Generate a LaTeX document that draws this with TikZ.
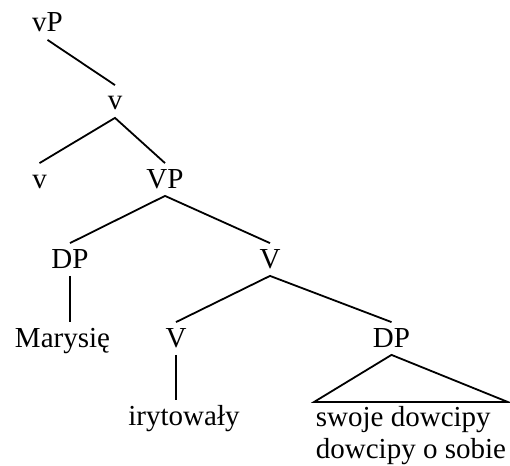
\documentclass[tikz,border=0pt]{standalone}
\usepackage{fontspec}
\setmainfont{Liberation Serif}
\usetikzlibrary{calc}
\newcommand{\treefont}{\fontsize{29}{32}\selectfont}

\begin{document}
\begin{tikzpicture}[x=1pt,y=-1pt,line width=1.8pt,
	cat/.style={anchor=base,inner sep=0pt,text height=24pt,text depth=7pt,font=\treefont},
	yield/.style={align=left,anchor=north west,inner xsep=1pt,inner ysep=3pt,font=\treefont}]
	\useasboundingbox (0,0) rectangle (510,465);

	\node[cat] (vP) at (47.5,32) {vP};
	\node[cat] (vbar) at (115,110) {v};
	\node[cat] (v) at (39.5,188) {v};
	\node[cat] (VP) at (165,188) {VP};
	\node[cat] (DPa) at (70,268) {DP};
	\node[cat] (Vbar) at (270,268) {V};
	\node[cat] (Marysie) at (62.5,347) {Marysię};
	\node[cat] (V) at (176,347) {V};
	\node[cat] (DPb) at (391.5,347) {DP};
	\node[cat] (iryt) at (184,425) {irytowały};
	\node[yield] (phrase) at (314,402) {swoje dowcipy\\dowcipy o sobie};

	\draw (vP.south) -- (vbar.north);
	\draw (v.north) -- (vbar.south) -- (VP.north);
	\draw (DPa.north) -- (VP.south) -- (Vbar.north);
	\draw (DPa.south) -- (DPa.south |- Marysie.north);
	\draw (V.north) -- (Vbar.south) -- (DPb.north);
	\draw (V.south) -- (V.south |- iryt.north);
	\draw (DPb.south) -- (phrase.north west) -- (phrase.north east) -- cycle;

\end{tikzpicture}
\end{document}
